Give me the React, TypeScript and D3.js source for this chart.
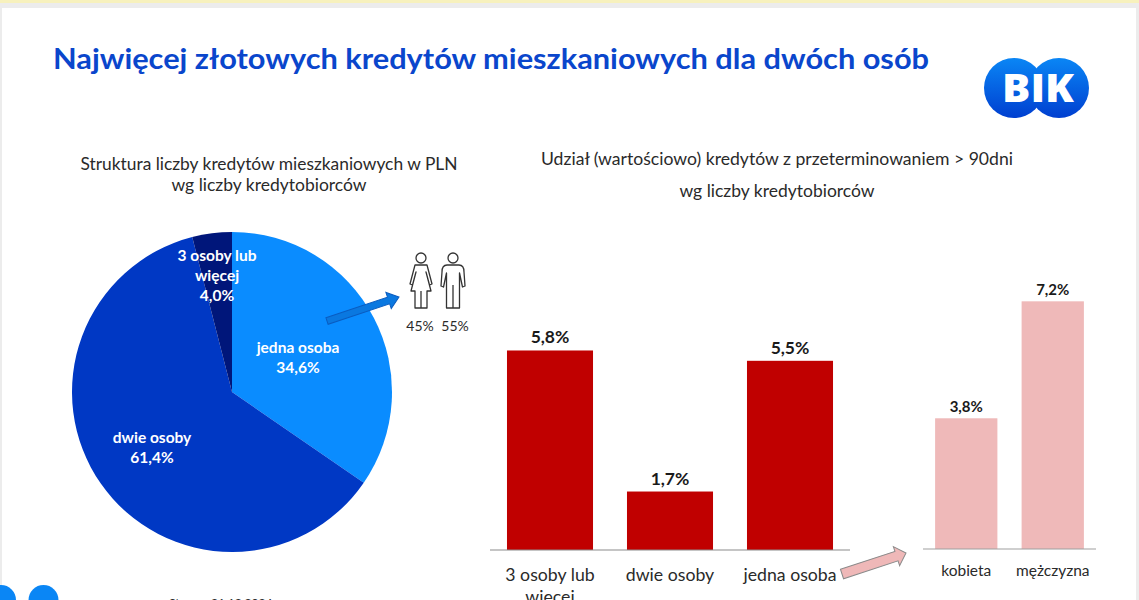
import React from "react";
import * as d3 from "d3";

const title = "Najwięcej złotowych kredytów mieszkaniowych dla dwóch osób";
const pieCategories = ["jedna osoba", "dwie osoby", "3 osoby lub więcej"];
const pieValues = [34.6, 61.4, 4.0];
const pieLabels = ["34,6%", "61,4%", "4,0%"];
const pieColors = ["#0a8cff", "#0038c4", "#00167a"];
const barCategories = ["3 osoby lub więcej", "dwie osoby", "jedna osoba"];
const barValues = [5.8, 1.7, 5.5];
const barLabels = ["5,8%", "1,7%", "5,5%"];
const genderCategories = ["kobieta", "mężczyzna"];
const genderValues = [3.8, 7.2];
const genderLabels = ["3,8%", "7,2%"];

const W = 1139, H = 600;
const font = "Lato, 'Open Sans', sans-serif";
const dark = "#2a2a2a";

function Person({ x, y, female }: { x: number; y: number; female: boolean }) {
  const s = { fill: "none", stroke: "#333", strokeWidth: 1.3, strokeLinejoin: "round" as const };
  return (
    <g transform={`translate(${x},${y})`}>
      <circle cx={0} cy={-22} r={5} {...s} />
      {female ? (
        <path d="M-6,-15 L6,-15 L11,4 L8.5,5 L5,-8 L10,11 L6,11 L6,28 L-6,28 L-6,11 L-10,11 L-5,-8 L-8.5,5 L-11,4 Z M0,11 L0,28" {...s} />
      ) : (
        <path d="M-6,-15 L6,-15 Q11,-15 11,-8 L12,6 L9.5,7 L6.5,-7 L6.5,28 L-6.5,28 L-6.5,-7 L-9.5,7 L-12,6 L-11,-8 Q-11,-15 -6,-15 Z M0,5 L0,28" {...s} />
      )}
    </g>
  );
}

function Arrow({ x1, y1, x2, y2, fill, stroke, w, head }: { x1: number; y1: number; x2: number; y2: number; fill: string; stroke: string; w: number; head: number }) {
  const a = (Math.atan2(y2 - y1, x2 - x1) * 180) / Math.PI;
  const L = Math.hypot(x2 - x1, y2 - y1);
  return (
    <g transform={`translate(${x1},${y1}) rotate(${a})`}>
      <path d={`M0,${-w / 2} L${L - head},${-w / 2} L${L - head},${-w / 2 - 5} L${L},0 L${L - head},${w / 2 + 5} L${L - head},${w / 2} L0,${w / 2} Z`} fill={fill} stroke={stroke} strokeWidth={1} />
    </g>
  );
}

export default function App() {
  const pie = d3.pie<number>().sort(null)(pieValues);
  const cx = 232, cy = 392, R = 160;
  const arc = d3.arc<d3.PieArcDatum<number>>().innerRadius(0).outerRadius(R);

  const unit = 34.4;
  const base = 550;
  const y = d3.scaleLinear().domain([0, 7.2]).range([base, base - 7.2 * unit]);
  const x = d3.scaleBand<string>().domain(barCategories).range([490, 850]).paddingInner(0.283).paddingOuter(0.1415);

  const base2 = 549;
  const y2 = d3.scaleLinear().domain([0, 7.2]).range([base2, base2 - 7.2 * unit]);
  const x2 = d3.scaleBand<string>().domain(genderCategories).range([923, 1096]).paddingInner(0.28).paddingOuter(0.14);

  return (
    <svg width={W} height={H} viewBox={`0 0 ${W} ${H}`} style={{ position: "absolute", left: 0, top: 0, fontFamily: font }}>
      <defs>
        <linearGradient id="logo" x1="0" y1="0" x2="0" y2="1">
          <stop offset="0" stopColor="#0a86f5" />
          <stop offset="1" stopColor="#003fd0" />
        </linearGradient>
      </defs>
      <rect width={W} height={H} fill="#ececec" />
      <rect width={W} height={3} fill="#f7f1bd" />
      <rect x={2} y={8} width={1134} height={H} fill="#ffffff" />

      <text x={53} y={69} fontSize={28.5} fontWeight={700} fill="#0a46cc" textLength={876} lengthAdjust="spacingAndGlyphs">{title}</text>

      <g>
        <circle cx={1014} cy={88} r={30} fill="url(#logo)" />
        <circle cx={1059} cy={88} r={30} fill="url(#logo)" />
        <text x={1038} y={102} textAnchor="middle" fontSize={39} fontWeight={800} fill="#fff" fontFamily="'Open Sans', sans-serif" textLength={72} lengthAdjust="spacingAndGlyphs">BIK</text>
      </g>

      <text x={269} y={170} textAnchor="middle" fontSize={17} fill={dark} textLength={377} lengthAdjust="spacingAndGlyphs">Struktura liczby kredytów mieszkaniowych w PLN</text>
      <text x={269} y={191} textAnchor="middle" fontSize={17} fill={dark} textLength={195} lengthAdjust="spacingAndGlyphs">wg liczby kredytobiorców</text>
      <text x={777} y={165} textAnchor="middle" fontSize={17} fill={dark} textLength={472} lengthAdjust="spacingAndGlyphs">Udział (wartościowo) kredytów z przeterminowaniem &gt; 90dni</text>
      <text x={777} y={197} textAnchor="middle" fontSize={17} fill={dark} textLength={195} lengthAdjust="spacingAndGlyphs">wg liczby kredytobiorców</text>

      <g transform={`translate(${cx},${cy})`}>
        {pie.map((d, i) => (
          <path key={pieCategories[i]} d={arc(d) ?? ""} fill={pieColors[i]} />
        ))}
      </g>
      <g fill="#fff" fontSize={15.5} fontWeight={700} textAnchor="middle">
        <text x={298} y={353}>jedna osoba</text>
        <text x={298} y={373}>{pieLabels[0]}</text>
        <text x={152} y={443}>dwie osoby</text>
        <text x={152} y={463}>{pieLabels[1]}</text>
        <text x={217} y={261}>3 osoby lub</text>
        <text x={217} y={281}>więcej</text>
        <text x={217} y={301}>{pieLabels[2]}</text>
      </g>

      <Arrow x1={327} y1={321} x2={399} y2={297} fill="#0a78e0" stroke="#0a5cc0" w={7} head={11} />
      <Person x={421} y={280} female />
      <Person x={453} y={280} female={false} />
      <text x={420} y={331} textAnchor="middle" fontSize={14} fill={dark}>45%</text>
      <text x={455} y={331} textAnchor="middle" fontSize={14} fill={dark}>55%</text>

      {barCategories.map((c, i) => (
        <g key={c}>
          <rect x={x(c)} y={y(barValues[i])} width={x.bandwidth()} height={base - y(barValues[i])} fill="#c00000" />
          <text x={(x(c) ?? 0) + x.bandwidth() / 2} y={y(barValues[i]) - 7} textAnchor="middle" fontSize={17.5} fontWeight={700} fill="#1a1a1a">{barLabels[i]}</text>
        </g>
      ))}
      <line x1={490} x2={850} y1={base} y2={base} stroke="#8c8c8c" strokeWidth={1.2} />
      <g fontSize={17.7} fill={dark} textAnchor="middle">
        <text x={550} y={581}>3 osoby lub</text>
        <text x={550} y={603}>więcej</text>
        <text x={670} y={581}>dwie osoby</text>
        <text x={790} y={581}>jedna osoba</text>
      </g>

      <Arrow x1={842} y1={574} x2={906} y2={553} fill="#efb8b8" stroke="#8a8a8a" w={10} head={10} />

      {genderCategories.map((c, i) => (
        <g key={c}>
          <rect x={x2(c)} y={y2(genderValues[i])} width={x2.bandwidth()} height={base2 - y2(genderValues[i])} fill="#efb9b9" />
          <text x={(x2(c) ?? 0) + x2.bandwidth() / 2} y={y2(genderValues[i]) - 6} textAnchor="middle" fontSize={15} fontWeight={700} fill="#1a1a1a">{genderLabels[i]}</text>
          <text x={(x2(c) ?? 0) + x2.bandwidth() / 2} y={576} textAnchor="middle" fontSize={15.5} fill={dark}>{c}</text>
        </g>
      ))}
      <line x1={923} x2={1096} y1={base2} y2={base2} stroke="#a0a0a0" strokeWidth={1.2} />

      <circle cx={1} cy={600} r={15} fill="#0a86f5" />
      <circle cx={43.5} cy={600} r={15} fill="#0a86f5" />
      <text x={169} y={607} fontSize={12} fill={dark}>Stan na 31.12.2024</text>
    </svg>
  );
}
